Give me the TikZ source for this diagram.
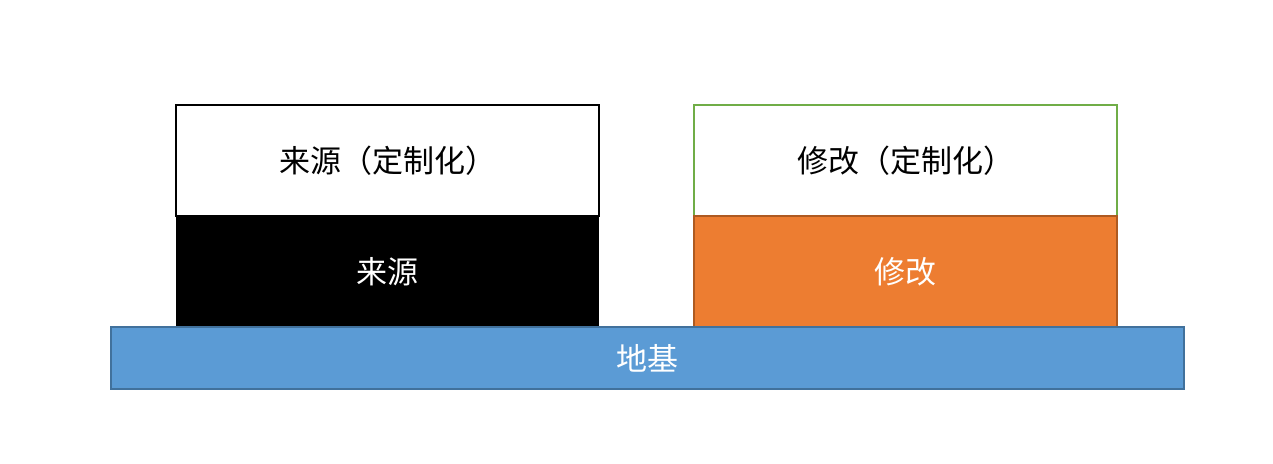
\documentclass[tikz,border=0pt]{standalone}
\usepackage{fontspec}
\newfontfamily\cjk{Noto Sans CJK SC}
\definecolor{baseblue}{HTML}{5B9BD5}
\definecolor{baseedge}{HTML}{41719C}
\definecolor{modorange}{HTML}{ED7D31}
\definecolor{modedge}{HTML}{AE5A21}
\definecolor{custgreen}{HTML}{70AD47}
\begin{document}
\begin{tikzpicture}[x=1pt,y=-1pt,
    layer/.style={rectangle,inner sep=0pt,outer sep=0pt,minimum width=423pt,minimum height=111pt,
      font=\cjk\fontsize{31}{34}\selectfont},
    custbox/.style={layer,draw,fill=white,text=black},
    srcbox/.style={layer,fill=black,text=white},
    modbox/.style={layer,draw=modedge,line width=1.2pt,fill=modorange,text=white},
    basebox/.style={layer,draw=baseedge,line width=1.5pt,fill=baseblue,text=white,
      minimum width=1073pt,minimum height=62pt}]
    \useasboundingbox (0,0) rectangle (1273,463);

    % Customised layers
    \node[custbox,line width=2pt] (srccust) at (387.5,160.5) {来源（定制化）};
    \node[custbox,draw=custgreen,line width=1.5pt] (modcust) at (905.5,160.5) {修改（定制化）};

    % Middle layers
    \node[srcbox] (src) at (387.5,271.5) {来源};
    \node[modbox] (mod) at (905.5,271.5) {修改};

    % Foundation
    \node[basebox] (base) at (647.5,358) {地基};
  \end{tikzpicture}
\end{document}
